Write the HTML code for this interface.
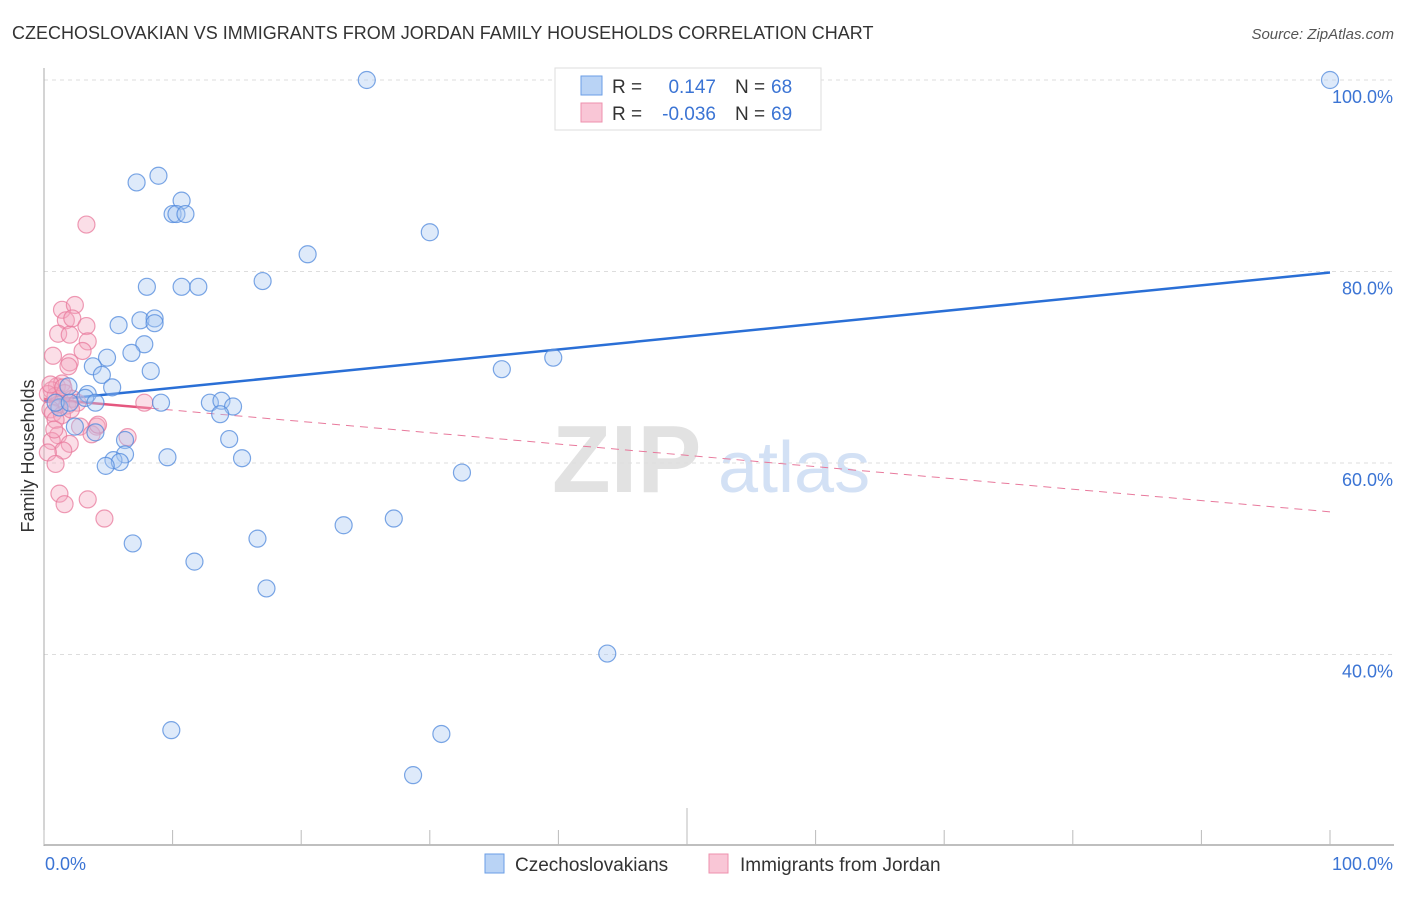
<!DOCTYPE html>
<html><head><meta charset="utf-8">
<style>
body{margin:0;background:#fff;font-family:"Liberation Sans",sans-serif;}
svg text{font-family:"Liberation Sans",sans-serif;}
</style></head>
<body>
<svg id="chart" width="1406" height="892" xmlns="http://www.w3.org/2000/svg">
<text x="12" y="39" font-size="18" fill="#333">CZECHOSLOVAKIAN VS IMMIGRANTS FROM JORDAN FAMILY HOUSEHOLDS CORRELATION CHART</text>
<text x="1394" y="39" font-size="15" fill="#555" text-anchor="end" font-style="italic">Source: ZipAtlas.com</text>
<g>
<text x="552" y="492" font-size="96" fill="#e2e2e2" font-family="Liberation Serif" font-weight="bold">ZIP</text>
<text x="718" y="492" font-size="72" fill="#d3e1f5">atlas</text>
</g>
<g id="grid"></g>
<g id="axes"></g>
<g id="trends"></g>
<g id="points"></g>
<text transform="translate(34,456) rotate(-90)" font-size="18" fill="#333" text-anchor="middle">Family Households</text>
<g>
<rect x="555" y="68" width="266" height="62" fill="#fff" stroke="#ddd"/>
<rect x="581" y="76" width="21" height="19" fill="#b9d3f5" stroke="#6a9ee6"/>
<rect x="581" y="103" width="21" height="19" fill="#f9c6d6" stroke="#ee90ad"/>
<text x="612" y="93" font-size="19" fill="#333">R =</text>
<text x="716" y="93" font-size="19" fill="#3b74d4" text-anchor="end">0.147</text>
<text x="735" y="93" font-size="19" fill="#333">N =</text>
<text x="771" y="93" font-size="19" fill="#3b74d4">68</text>
<text x="612" y="120" font-size="19" fill="#333">R =</text>
<text x="716" y="120" font-size="19" fill="#3b74d4" text-anchor="end">-0.036</text>
<text x="735" y="120" font-size="19" fill="#333">N =</text>
<text x="771" y="120" font-size="19" fill="#3b74d4">69</text>
</g>
<g>
<rect x="485" y="854" width="19" height="19" fill="#b9d3f5" stroke="#6a9ee6"/>
<text x="515" y="871" font-size="19" fill="#333">Czechoslovakians</text>
<rect x="709" y="854" width="19" height="19" fill="#f9c6d6" stroke="#ee90ad"/>
<text x="740" y="871" font-size="19" fill="#333">Immigrants from Jordan</text>
</g>
</svg>
<script>
const yTicks=[40,60,80,100];
const xTickLabels=["0.0%","100.0%"];
const blueX=[25.1,49.9,100,7.2,8.9,10.7,10.0,10.3,11.0,30.0,20.5,17.0,8.0,10.7,12.0,5.8,7.5,8.6,8.6,7.8,4.9,6.8,39.6,35.6,8.3,3.8,4.5,1.9,3.4,5.3,3.2,4.0,9.1,12.9,13.8,14.7,13.7,1.2,0.9,2.0,2.4,4.0,14.4,6.3,6.3,5.4,5.9,9.6,15.4,4.8,32.5,23.3,27.2,16.6,6.9,11.7,17.3,43.8,9.9,30.9,28.7];
const blueY=[100,100,100,89.3,90.0,87.4,86.0,86.0,86.0,84.1,81.8,79.0,78.4,78.4,78.4,74.4,74.9,75.1,74.6,72.4,71.0,71.5,71.0,69.8,69.6,70.1,69.2,68.0,67.2,67.9,66.8,66.3,66.3,66.3,66.5,65.9,65.1,65.8,66.3,66.3,63.8,63.2,62.5,62.4,60.9,60.3,60.1,60.6,60.5,59.7,59.0,53.5,54.2,52.1,51.6,49.7,46.9,40.1,32.1,31.7,27.4];
const pinkX=[3.3,1.4,2.4,1.7,2.2,3.3,1.1,2.0,3.4,0.7,3.0,2.0,1.9,1.0,1.4,0.6,0.9,1.2,1.6,1.1,0.5,0.7,1.8,2.2,2.6,1.4,0.9,0.3,0.5,7.8,2.8,4.1,3.7,1.1,0.6,2.0,1.5,0.3,6.5,0.9,1.2,3.4,1.6,4.7,1.5,2.1,0.8,4.2];
const pinkY=[84.9,76.0,76.5,74.9,75.1,74.3,73.5,73.4,72.7,71.2,71.7,70.5,70.1,68.0,68.3,67.6,67.0,66.7,67.3,66.1,65.6,65.2,66.0,66.7,66.3,65.0,64.5,67.2,68.2,66.3,63.8,63.8,63.0,62.9,62.3,62.0,61.3,61.1,62.7,59.9,56.8,56.2,55.7,54.2,67.9,65.6,63.5,64.0];
const blueTrend=[66.5,79.9];
const pinkTrend=[66.7,54.9];
const X0=44,X1=1330,Y100=80,PX20=191.5;
const sx=v=>X0+(X1-X0)*v/100;
const sy=v=>Y100+(100-v)*PX20/20;
const NS="http://www.w3.org/2000/svg";
function mk(tag,attrs,parent){const e=document.createElementNS(NS,tag);for(const k in attrs)e.setAttribute(k,attrs[k]);parent.appendChild(e);return e;}
const grid=document.getElementById('grid'),axes=document.getElementById('axes'),tr=document.getElementById('trends'),pts=document.getElementById('points');
yTicks.forEach(t=>{
 const l=mk('line',{x1:44,x2:1394,y1:sy(t),y2:sy(t),stroke:'#ddd','stroke-dasharray':'4,4'},grid);
 
 
 const tx=mk('text',{x:1393,y:sy(t)+23,'font-size':18,fill:'#3b74d4','text-anchor':'end'},axes);
 tx.textContent=t.toFixed(1)+'%';
 
 
});
const ya=mk('line',{x1:44,x2:44,y1:68,y2:846,stroke:'#aaa'},axes);


const xa=mk('line',{x1:44,x2:1394,y1:845,y2:845,stroke:'#aaa','stroke-width':1.5},axes);


for(let i=0;i<=10;i++){
 const tk=mk('line',{x1:sx(i*10),x2:sx(i*10),y1:i==5?808:830,y2:845,stroke:'#bbb'},axes);
 
 
}
xTickLabels.forEach((s,i)=>{
 const tx=mk('text',{x:i==0?45:1393,y:870,'font-size':18,fill:'#3b74d4','text-anchor':i==0?'start':'end'},axes);
 tx.textContent=s;
 
 
});
function drawPts(xs,ys,fill,stroke,name){
 xs.forEach((x,i)=>{
  const c=mk('circle',{cx:sx(x),cy:sy(ys[i]),r:8.5,fill:fill,'fill-opacity':0.38,stroke:stroke,'stroke-opacity':0.75,'stroke-width':1.2},pts);
  
  
 });
}
drawPts(pinkX,pinkY,'#f5a7bf','#e8799c','point-jordan');
drawPts(blueX,blueY,'#a9c9f2','#4f88dc','point-czechoslovakian');
const bl=mk('line',{x1:sx(0),y1:sy(blueTrend[0]),x2:sx(100),y2:sy(blueTrend[1]),stroke:'#2a6fd6','stroke-width':2.5},tr);


const pAt=x=>pinkTrend[0]+(pinkTrend[1]-pinkTrend[0])*x/100;
const ps=mk('line',{x1:sx(0),y1:sy(pAt(0)),x2:sx(8.3),y2:sy(pAt(8.3)),stroke:'#e5577f','stroke-width':2.5},tr);


const pd=mk('line',{x1:sx(8.3),y1:sy(pAt(8.3)),x2:sx(100),y2:sy(pAt(100)),stroke:'#e8799c','stroke-width':1,'stroke-dasharray':'8,6'},tr);


</script>
</body></html>
